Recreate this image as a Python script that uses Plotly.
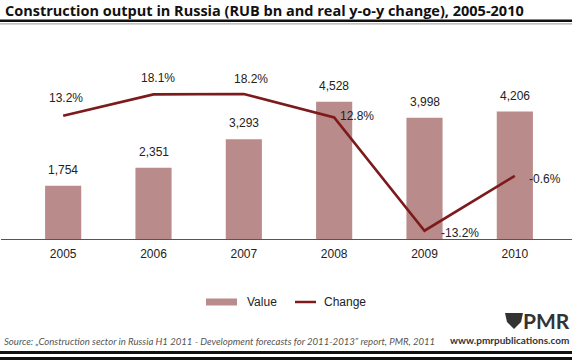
import plotly.graph_objects as go

years = ["2005", "2006", "2007", "2008", "2009", "2010"]
values = [1754, 2351, 3293, 4528, 3998, 4206]
value_labels = ["1,754", "2,351", "3,293", "4,528", "3,998", "4,206"]
change = [13.2, 18.1, 18.2, 12.8, -13.2, -0.6]
change_labels = ["13.2%", "18.1%", "18.2%", "12.8%", "-13.2%", "-0.6%"]

W, H = 572, 362
L, R, T, B = 18, 560, 40, 239  # plot area in pixels

def px(x):
    return (x - L) / (R - L)

def py(y):
    return (B - y) / (B - T)

BAR = "#b98b8b"
LINE = "#7d1a1c"
FONT = "Liberation Sans, Arial, sans-serif"

fig = go.Figure()
fig.add_trace(go.Bar(x=years, y=values, name="Value", marker_color=BAR,
                     marker_line_width=0, hoverinfo="skip"))
fig.add_trace(go.Scatter(x=years, y=change, name="Change", mode="lines",
                         line=dict(color=LINE, width=2.6), yaxis="y2", hoverinfo="skip"))

ann = []
for i, (v, lab) in enumerate(zip(values, value_labels)):
    ann.append(dict(x=i, y=v, text=lab, showarrow=False, yshift=16,
                    font=dict(family=FONT, size=12, color="#222")))

# line label offsets (xshift, yshift, anchor)
offs = [(3, 18, "center"), (4, 16, "center"), (7, 15, "center"),
        (4, 1, "left"), (14, -2, "left"), (12, -3, "left")]
for i, (c, lab, (dx, dy, anc)) in enumerate(zip(change, change_labels, offs)):
    ann.append(dict(x=i, y=c, yref="y2", text=lab, showarrow=False,
                    xshift=dx, yshift=dy, xanchor=anc,
                    font=dict(family=FONT, size=12, color="#222")))

# title
ann.append(dict(xref="paper", yref="paper", x=px(3), y=py(10), xanchor="left",
                yanchor="middle", showarrow=False,
                text="<b>Construction output in Russia (RUB bn and real y-o-y change), 2005-2010</b>",
                font=dict(family="Open Sans, sans-serif", size=14.5, color="#111")))
# legend texts
ann.append(dict(xref="paper", yref="paper", x=px(245), y=py(302), xanchor="left",
                yanchor="middle", showarrow=False, text="Value",
                font=dict(family=FONT, size=12, color="#222")))
ann.append(dict(xref="paper", yref="paper", x=px(322), y=py(302), xanchor="left",
                yanchor="middle", showarrow=False, text="Change",
                font=dict(family=FONT, size=12, color="#222")))
# source
ann.append(dict(xref="paper", yref="paper", x=px(2), y=py(341), xanchor="left",
                yanchor="middle", showarrow=False,
                text="<i>Source: „Construction sector in Russia H1 2011 - Development forecasts for 2011-2013” report, PMR, 2011</i>",
                font=dict(family="Lato, sans-serif", size=9.6, color="#555")))
ann.append(dict(xref="paper", yref="paper", x=px(571), y=py(340), xanchor="right",
                yanchor="middle", showarrow=False,
                text="<b>www.pmrpublications.com</b>",
                font=dict(family="Lato, sans-serif", size=10, color="#333")))
ann.append(dict(xref="paper", yref="paper", x=px(572), y=py(320.5), xanchor="right",
                yanchor="middle", showarrow=False,
                text="<b>PMR</b>",
                font=dict(family="Lato, sans-serif", size=21, color="#333")))

shapes = []
# title rules
shapes.append(dict(type="line", xref="paper", yref="paper", x0=px(0), x1=px(572),
                   y0=py(20.7), y1=py(20.7), line=dict(color="#111", width=2.5)))
shapes.append(dict(type="line", xref="paper", yref="paper", x0=px(0), x1=px(572),
                   y0=py(23.8), y1=py(23.8), line=dict(color="#aaa", width=1.2)))
# axis line
shapes.append(dict(type="line", xref="paper", yref="paper", x0=px(1), x1=px(572),
                   y0=py(239.5), y1=py(239.5), line=dict(color="#555", width=1)))
# legend swatches
shapes.append(dict(type="rect", xref="paper", yref="paper", x0=px(206), x1=px(237),
                   y0=py(298.5), y1=py(305.5), fillcolor=BAR, line=dict(width=0)))
shapes.append(dict(type="line", xref="paper", yref="paper", x0=px(295), x1=px(316),
                   y0=py(302), y1=py(302), line=dict(color=LINE, width=2.5)))
# bottom rules
for yy in (352.5, 358.5):
    shapes.append(dict(type="line", xref="paper", yref="paper", x0=px(0), x1=px(572),
                       y0=py(yy), y1=py(yy), line=dict(color="#111", width=2.8)))
# PMR logo icon (approximate)
shapes.append(dict(type="path", xref="paper", yref="paper",
                   path=f"M {px(505)} {py(313)} L {px(523)} {py(313)} L {px(521)} {py(322)} L {px(514)} {py(329)} L {px(507)} {py(322)} Z",
                   fillcolor="#333", line=dict(width=0)))

fig.update_layout(
    width=W, height=H,
    margin=dict(l=L, r=W - R, t=T, b=H - B, pad=0),
    paper_bgcolor="white", plot_bgcolor="white",
    showlegend=False,
    bargap=0.6,
    xaxis=dict(type="category", range=[-0.5, 5.5], showline=False, showgrid=False,
               zeroline=False, ticks="", ticklabelstandoff=6,
               tickfont=dict(family=FONT, size=12, color="#222"), fixedrange=True),
    yaxis=dict(range=[0, 6567], visible=False, showgrid=False, fixedrange=True),
    yaxis2=dict(range=[-15.1, 30.58], overlaying="y", visible=False, showgrid=False,
                fixedrange=True),
    annotations=ann, shapes=shapes,
)

fig.write_html("out.html", config={"displayModeBar": False},
               post_script="document.body.style.margin='0';document.body.style.padding='0';")
